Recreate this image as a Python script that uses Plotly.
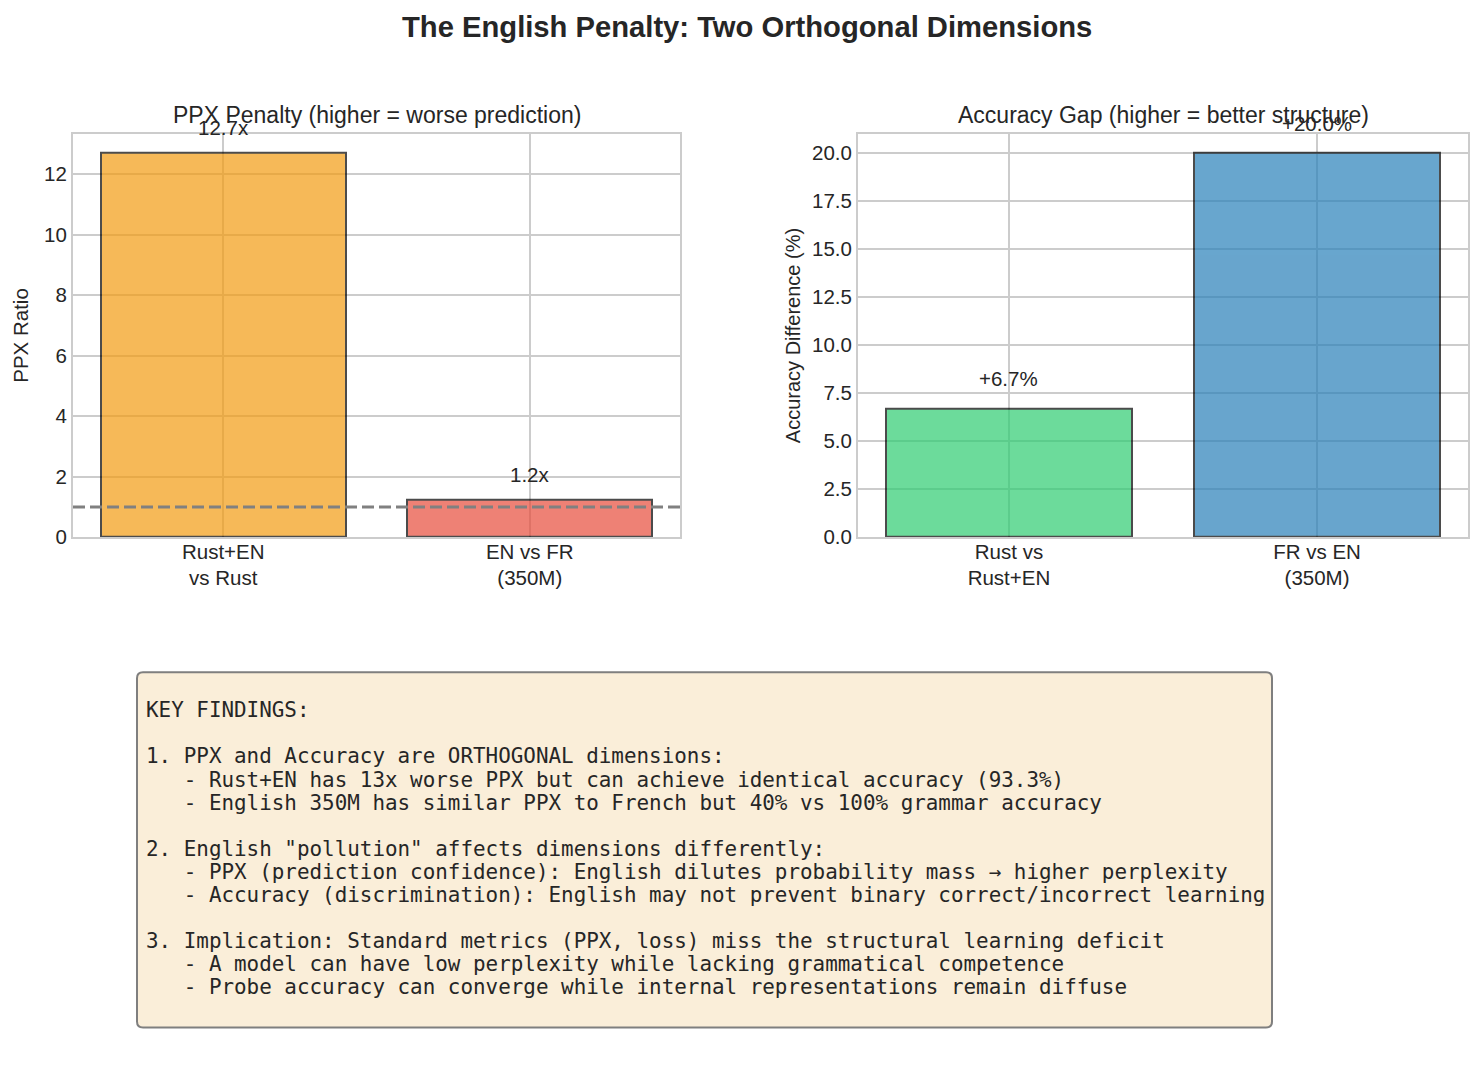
import plotly.graph_objects as go

# Page is 1483x1074; the HTML body adds an 8px margin, so the figure is sized to fit inside it.
PAGE_W, PAGE_H = 1483, 1074
OFF = 8
W, H = PAGE_W - 2 * OFF, PAGE_H - 2 * OFF
VSCALE = 0.989  # measured vertical compression of the captured page

# ---- data ----
ppx_categories = ["Rust+EN<br>vs Rust", "EN vs FR<br>(350M)"]
ppx_values = [12.7, 1.22]
ppx_colors = ["#f39c12", "#e74c3c"]

acc_categories = ["Rust vs<br>Rust+EN", "FR vs EN<br>(350M)"]
acc_values = [6.7, 20.0]
acc_colors = ["#2ecc71", "#2980b9"]

baseline_ratio = 1.0

left_ticks = [0, 2, 4, 6, 8, 10, 12]
right_ticks = [0, 2.5, 5, 7.5, 10, 12.5, 15, 17.5, 20]

title_text = "The English Penalty: Two Orthogonal Dimensions"
left_title = "PPX Penalty (higher = worse prediction)"
right_title = "Accuracy Gap (higher = better structure)"
left_ylabel = "PPX Ratio"
right_ylabel = "Accuracy Difference (%)"

findings_lines = [
    "KEY FINDINGS:",
    "",
    "1. PPX and Accuracy are ORTHOGONAL dimensions:",
    "   - Rust+EN has 13x worse PPX but can achieve identical accuracy (93.3%)",
    "   - English 350M has similar PPX to French but 40% vs 100% grammar accuracy",
    "",
    "2. English \"pollution\" affects dimensions differently:",
    "   - PPX (prediction confidence): English dilutes probability mass \u2192 higher perplexity",
    "   - Accuracy (discrimination): English may not prevent binary correct/incorrect learning",
    "",
    "3. Implication: Standard metrics (PPX, loss) miss the structural learning deficit",
    "   - A model can have low perplexity while lacking grammatical competence",
    "   - Probe accuracy can converge while internal representations remain diffuse",
]

# ---- style ----
SANS = "Liberation Sans, Arial, sans-serif"
MONO = "DejaVu Sans Mono, monospace"
TXT = "#262626"
GRID = "#cccccc"
FS = 20.5


def px_x(p):
    return (p - OFF) / W


def px_y(p):
    p_adj = 27 + (p - 27) / VSCALE
    return 1 - (p_adj - OFF) / H


fig = go.Figure()

fig.add_trace(go.Bar(
    x=[0, 1], y=ppx_values, width=0.8,
    marker=dict(color=ppx_colors, line=dict(color="black", width=2)),
    opacity=0.7, xaxis="x", yaxis="y", showlegend=False, hoverinfo="skip",
))
fig.add_trace(go.Bar(
    x=[0, 1], y=acc_values, width=0.8,
    marker=dict(color=acc_colors, line=dict(color="black", width=2)),
    opacity=0.7, xaxis="x2", yaxis="y2", showlegend=False, hoverinfo="skip",
))

axis_common = dict(
    showgrid=True, gridcolor=GRID, gridwidth=2,
    showline=True, linecolor=GRID, linewidth=2, mirror=True,
    zeroline=False, ticks="",
    tickfont=dict(family=SANS, size=FS, color=TXT),
)

fig.update_layout(
    width=W, height=H,
    paper_bgcolor="white", plot_bgcolor="white",
    margin=dict(l=0, r=0, t=0, b=0),
    bargap=0,
    xaxis=dict(domain=[px_x(73), px_x(680)], range=[-0.49, 1.49],
               tickvals=[0, 1], ticktext=ppx_categories, anchor="y",
               ticklabelstandoff=-5, **axis_common),
    yaxis=dict(domain=[px_y(537), px_y(134)], range=[0, 12.7 * 1.05],
               tickvals=left_ticks, anchor="x",
               title=dict(text=left_ylabel, font=dict(family=SANS, size=FS, color=TXT), standoff=10),
               **axis_common),
    xaxis2=dict(domain=[px_x(858), px_x(1468)], range=[-0.49, 1.49],
                tickvals=[0, 1], ticktext=acc_categories, anchor="y2",
                ticklabelstandoff=-5, **axis_common),
    yaxis2=dict(domain=[px_y(537), px_y(134)], range=[0, 21.0],
                tickvals=right_ticks, tickformat=".1f", anchor="x2",
                title=dict(text=right_ylabel, font=dict(family=SANS, size=FS - 0.5, color=TXT), standoff=6),
                **axis_common),
)

# baseline dashed line at ratio = 1
fig.add_shape(type="line", xref="x domain", yref="y", x0=0, x1=1,
              y0=baseline_ratio, y1=baseline_ratio,
              line=dict(color="gray", width=3, dash="12px,5px"), layer="above")

ann = []
# main title
ann.append(dict(text="<b>%s</b>" % title_text, xref="paper", yref="paper",
                x=px_x(746.5), y=px_y(27), xanchor="center", yanchor="middle", showarrow=False,
                font=dict(family=SANS, size=29.2, color=TXT)))
# subplot titles
ann.append(dict(text=left_title, xref="paper", yref="paper",
                x=px_x((73 + 680) / 2), y=px_y(115), xanchor="center", yanchor="middle",
                showarrow=False, font=dict(family=SANS, size=23, color=TXT)))
ann.append(dict(text=right_title, xref="paper", yref="paper",
                x=px_x((858 + 1468) / 2), y=px_y(115), xanchor="center", yanchor="middle",
                showarrow=False, font=dict(family=SANS, size=23, color=TXT)))
# bar value labels
for i, v in enumerate(ppx_values):
    ann.append(dict(text=f"{v:.1f}x", xref="x", yref="y", x=i, y=v + 0.5,
                    xanchor="center", yanchor="bottom", showarrow=False, yshift=-3,
                    font=dict(family=SANS, size=FS, color=TXT)))
for i, v in enumerate(acc_values):
    ann.append(dict(text=f"+{v:.1f}%", xref="x2", yref="y2", x=i, y=v + 1.0,
                    xanchor="center", yanchor="bottom", showarrow=False, yshift=-3,
                    font=dict(family=SANS, size=FS, color=TXT)))

# findings text box
bx0, bx1, by0, by1 = px_x(137), px_x(1272), px_y(1027), px_y(672)
rx, ry = 6 / W, 6 / H
path = (f"M {bx0 + rx},{by1} L {bx1 - rx},{by1} Q {bx1},{by1} {bx1},{by1 - ry} "
        f"L {bx1},{by0 + ry} Q {bx1},{by0} {bx1 - rx},{by0} "
        f"L {bx0 + rx},{by0} Q {bx0},{by0} {bx0},{by0 + ry} "
        f"L {bx0},{by1 - ry} Q {bx0},{by1} {bx0 + rx},{by1} Z")
fig.add_shape(type="path", xref="paper", yref="paper", path=path,
              fillcolor="rgba(245,222,179,0.5)", line=dict(color="#7f7f7f", width=2),
              layer="above")

line_h = 23.08
for i, line in enumerate(findings_lines):
    if not line:
        continue
    stripped = line.lstrip(" ")
    lead = len(line) - len(stripped)
    txt = "\u00a0" * lead + stripped
    ann.append(dict(text=txt, xref="paper", yref="paper",
                    x=px_x(144), y=px_y(710 + i * line_h), xanchor="left", yanchor="middle",
                    showarrow=False, align="left",
                    font=dict(family=MONO, size=20.9, color=TXT)))

fig.update_layout(annotations=ann)

fig.write_html("out.html")
